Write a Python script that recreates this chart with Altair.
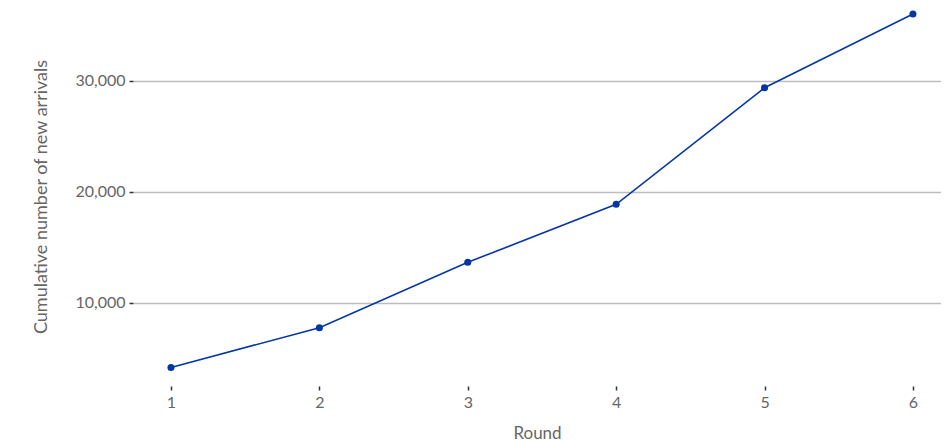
import altair as alt
import pandas as pd

rounds = [1, 2, 3, 4, 5, 6]
arrivals = [4150, 7740, 13640, 18870, 29390, 36040]
y_ticks = [10000, 20000, 30000]

df = pd.DataFrame({"Round": rounds, "Arrivals": arrivals})

FONT = "Lato"
LINE_COLOR = "#0536a3"
TEXT_COLOR = "#666666"

x = alt.X(
    "Round:Q",
    title="Round",
    scale=alt.Scale(domain=[0.744, 6.189], nice=False, zero=False),
    axis=alt.Axis(
        values=rounds,
        format="d",
        grid=False,
        domain=False,
        ticks=True,
        tickSize=4,
        tickColor="#333333",
        tickWidth=1.5,
        labelFontSize=16,
        labelColor=TEXT_COLOR,
        labelFont=FONT,
        labelPadding=4,
        titleFontSize=17,
        titleColor=TEXT_COLOR,
        titleFont=FONT,
        titleFontWeight="normal",
        titlePadding=15,
        offset=1,
    ),
)
y = alt.Y(
    "Arrivals:Q",
    title="Cumulative number of new arrivals",
    scale=alt.Scale(domain=[2571, 36581], nice=False, zero=False),
    axis=alt.Axis(
        values=y_ticks,
        format=",d",
        grid=True,
        gridColor="#bdbdbd",
        gridWidth=1.5,
        domain=False,
        ticks=True,
        tickSize=4,
        tickColor="#333333",
        tickWidth=1.5,
        labelFontSize=16,
        labelColor=TEXT_COLOR,
        labelFont=FONT,
        labelPadding=4,
        titleFontSize=18,
        titleColor=TEXT_COLOR,
        titleFont=FONT,
        titleFontWeight="normal",
        titlePadding=24,
    ),
)

line = alt.Chart(df).mark_line(color=LINE_COLOR, strokeWidth=1.6, clip=False).encode(x=x, y=y)
points = alt.Chart(df).mark_point(
    color=LINE_COLOR, filled=True, size=50, opacity=1, clip=False
).encode(x=x, y=y)

chart = (
    alt.layer(line, points)
    .properties(
        width=808,
        height=377,
        background="white",
        autosize=alt.AutoSizeParams(type="none"),
        padding={"left": 125, "top": 0, "right": 0, "bottom": 60},
    )
    .configure_view(stroke=None, strokeWidth=0)
)

chart.save("out.html", embed_options={"renderer": "svg", "actions": False})
